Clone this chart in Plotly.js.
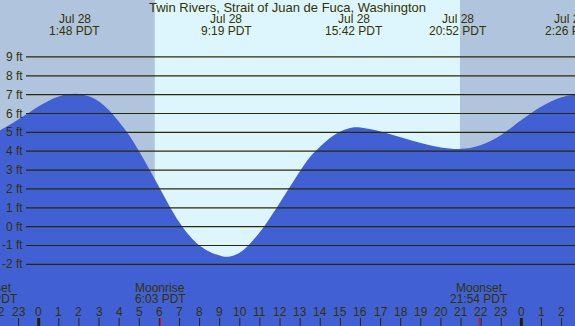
<!DOCTYPE html>
<html>
<head>
<meta charset="utf-8">
<script src="https://cdn.plot.ly/plotly-3.0.1.min.js"></script>
<style>html,body{margin:0;padding:0;background:#ddf6fd;}#chart{width:575px;height:326px;}</style>
</head>
<body>
<div id="chart"></div>
<script>
// Tide curve readings (hours from midnight Jul 28, feet)
const tideHours   = [-1.94,-1.5,-1.0,-0.5,0.0,0.5,1.0,1.4,1.8,2.2,2.6,3.0,3.5,4.0,4.5,5.0,5.5,6.0,6.5,7.0,7.5,8.0,8.5,9.0,9.32,9.7,10.2,10.7,11.2,11.8,12.4,13.0,13.5,14.0,14.5,15.0,15.4,15.7,16.3,17.0,18.0,19.0,20.0,20.87,21.5,22.0,22.5,23.0,23.5,24.0,24.5,25.0,25.5,26.0,26.43,26.67];
const tideHeights = [5.10,5.36,5.70,6.03,6.38,6.68,6.90,7.01,7.05,7.00,6.88,6.64,6.17,5.55,4.85,3.98,3.05,2.08,1.10,0.22,-0.48,-1.00,-1.33,-1.53,-1.60,-1.53,-1.22,-0.67,0.00,0.95,1.95,2.95,3.70,4.25,4.72,5.05,5.21,5.27,5.21,5.05,4.74,4.43,4.20,4.12,4.18,4.33,4.55,4.86,5.25,5.65,6.03,6.37,6.65,6.86,6.97,6.98];

// High / low labels
const extremeHours = [1.80, 9.317, 15.70, 20.867, 26.433];
const extremeDates = ['Jul 28','Jul 28','Jul 28','Jul 28','Jul 29'];
const extremeTimes = ['1:48 PDT','9:19 PDT','15:42 PDT','20:52 PDT','2:26 PDT'];

// Sun (night shading)
const sunrise = 5.77;  // 5:46
const sunset  = 20.95; // 20:57

// Moon events
const moonHours = [-2.483, 6.05, 21.90];
const moonNames = ['Moonset','Moonrise','Moonset'];
const moonTimes = ['21:31 PDT','6:03 PDT','21:54 PDT'];

// Axis ticks
const yTickVals   = [-2,-1,0,1,2,3,4,5,6,7,8,9];
const yTickLabels = ['-2 ft','-1 ft','0 ft','1 ft','2 ft','3 ft','4 ft','5 ft','6 ft','7 ft','8 ft','9 ft'];
const hourTickVals   = [-2,-1,0,1,2,3,4,5,6,7,8,9,10,11,12,13,14,15,16,17,18,19,20,21,22,23,24,25,26];
const hourTickLabels = ['22','23','0','1','2','3','4','5','6','7','8','9','10','11','12','13','14','15','16','17','18','19','20','21','22','23','0','1','2'];
const midnightHours = [0, 24];

const xRange = [-1.924, 26.668];
const yRange = [-5.27, 12.02];
const W = 575, H = 326;
const FONT = 'Liberation Sans, Arial, sans-serif';
const TXT = '#333300';
const LINE = '#2a2a00';
const FILL = '#4160d4';

function px2paperY(py){ return 1 - py / H; }
function hourToPaper(h){ return (h - xRange[0]) / (xRange[1] - xRange[0]); }

const floorY = yRange[0] - 1;
const traces = [
  {x: tideHours, y: tideHours.map(() => floorY), mode: 'lines', line: {width: 0, color: FILL}, hoverinfo: 'skip', showlegend: false},
  {x: tideHours, y: tideHeights, mode: 'lines', line: {width: 0, color: FILL, shape: 'spline', smoothing: 1}, fill: 'tonexty', fillcolor: FILL, hoverinfo: 'skip', showlegend: false}
];

const shapes = [];
// night shading
shapes.push({type:'rect', layer:'below', xref:'x', yref:'paper', x0: xRange[0]-1, x1: sunrise, y0:0, y1:1, fillcolor:'#b0c4de', line:{width:0}});
shapes.push({type:'rect', layer:'below', xref:'x', yref:'paper', x0: sunset, x1: xRange[1]+1, y0:0, y1:1, fillcolor:'#b0c4de', line:{width:0}});
// horizontal ft lines
yTickVals.forEach(v => shapes.push({type:'line', layer:'above', xref:'paper', yref:'y', x0: 26/W, x1: 1, y0: v, y1: v, line:{color: LINE, width: 1.2}}));
// hour ticks
hourTickVals.forEach(h => shapes.push({type:'line', layer:'above', xref:'x', yref:'paper', x0:h, x1:h, y0:0, y1: 8/H, line:{color: LINE, width: 1}}));
midnightHours.forEach(h => shapes.push({type:'line', layer:'above', xref:'x', yref:'paper', x0:h, x1:h, y0:0, y1: 8/H, line:{color: '#222200', width: 3}}));
moonHours.forEach(h => shapes.push({type:'line', layer:'above', xref:'x', yref:'paper', x0:h, x1:h, y0:0, y1: 8/H, line:{color: '#ff0000', width: 1}}));

const annotations = [];
function txt(text, xp, py, size){
  annotations.push({text: text, xref:'paper', yref:'paper', x: xp, y: px2paperY(py), xanchor:'center', yanchor:'middle', showarrow:false, font:{family: FONT, size: size||12, color: TXT}});
}
yTickVals.forEach((v,i) => annotations.push({text: yTickLabels[i], xref:'paper', yref:'y', x: 24.5/W, y: v, xanchor:'right', yanchor:'middle', showarrow:false, font:{family: FONT, size: 12, color: TXT}}));
extremeHours.forEach((h,i) => { txt(extremeDates[i], hourToPaper(h), 19); txt(extremeTimes[i], hourToPaper(h), 31); });
moonHours.forEach((h,i) => { txt(moonNames[i], hourToPaper(h), 288); txt(moonTimes[i], hourToPaper(h), 299); });
hourTickVals.forEach((h,i) => txt(hourTickLabels[i], hourToPaper(h), 311.5));

const layout = {
  width: W, height: H,
  margin: {l:0, r:0, t:0, b:0, pad:0},
  paper_bgcolor: '#ddf6fd', plot_bgcolor: '#ddf6fd',
  title: {text: 'Twin Rivers, Strait of Juan de Fuca, Washington', font:{family: FONT, size: 13, color: TXT}, x: 0.5, xanchor:'center', xref:'paper', y: 1 - 7/H, yref:'container', yanchor:'middle'},
  xaxis: {range: xRange, visible: false, fixedrange: true},
  yaxis: {range: yRange, visible: false, fixedrange: true},
  shapes: shapes,
  annotations: annotations,
  showlegend: false
};
Plotly.newPlot('chart', traces, layout, {staticPlot: true, displayModeBar: false});
</script>
</body>
</html>
